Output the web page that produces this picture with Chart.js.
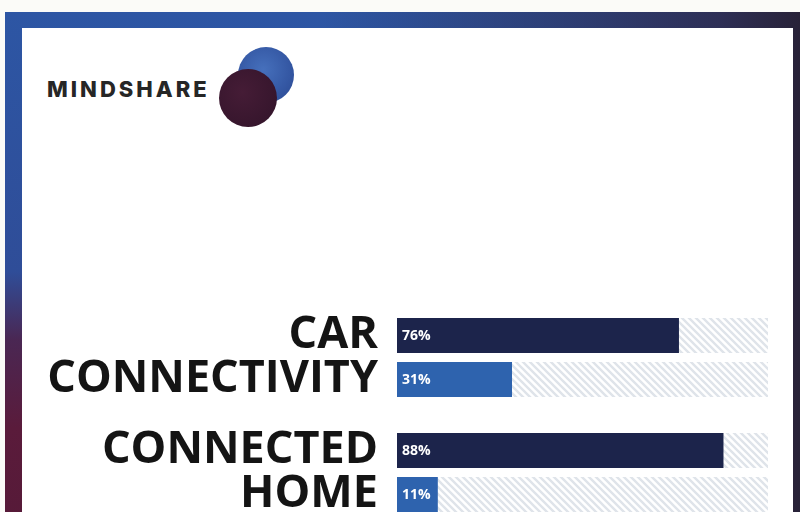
<!DOCTYPE html>
<html>
<head>
<meta charset="utf-8">
<script src="https://cdn.jsdelivr.net/npm/chart.js@4.4.1/dist/chart.umd.min.js"></script>
<style>
  html, body { margin: 0; padding: 0; width: 800px; height: 512px; overflow: hidden; background: #fbfbf8; }
  #frame {
    position: absolute; left: 5px; top: 12px; width: 795px; height: 520px;
    background: linear-gradient(to bottom, #2d56a4 0%, #2f4d98 50%, #4a2753 63%, #5a1b3b 80%, #561a38 100%);
  }
  #frameShade {
    position: absolute; left: 0; top: 0; width: 100%; height: 100%;
    background: linear-gradient(to right, rgba(40,40,80,0) 0%, rgba(40,40,80,0) 40%, rgba(46,40,72,0.85) 90%, rgba(40,34,56,1) 100%);
  }
  #panel { position: absolute; left: 22px; top: 28px; width: 771px; height: 500px; background: #ffffff; }
  #logo {
    position: absolute; left: 47px; top: 75px; font-family: Inter, "DejaVu Sans", sans-serif;
    font-weight: 800; font-size: 22px; letter-spacing: 3px; color: #262626; line-height: 28px;
  }
  .dot { position: absolute; border-radius: 50%; }
  #dotBlue { left: 238px; top: 47px; width: 56px; height: 56px; background: radial-gradient(circle at 45% 40%, #4670bc 0%, #3457a3 60%, #2a488f 100%); }
  #dotRed { left: 219px; top: 69px; width: 58px; height: 58px; background: radial-gradient(circle at 40% 40%, #451c36 0%, #37162d 70%, #2e1227 100%); }
  #chart { position: absolute; left: 0; top: 0; width: 800px; height: 560px; }
</style>
</head>
<body>
<div id="frame"><div id="frameShade"></div></div>
<div id="panel"></div>
<div id="logo">MINDSHARE</div>
<div class="dot" id="dotBlue"></div>
<div class="dot" id="dotRed"></div>
<canvas id="chart" width="800" height="560"></canvas>
<script>
const categories = [["CAR", "CONNECTIVITY"], ["CONNECTED", "HOME"]];
const darkValues = [76, 88];
const blueValues = [31, 11];
const trackMax = 100;

const chartCanvas = document.getElementById("chart");

function makeHatch() {
  const c = document.createElement("canvas");
  c.width = 7;
  c.height = 7;
  const g = c.getContext("2d");
  g.fillStyle = "#ffffff";
  g.fillRect(0, 0, 7, 7);
  g.strokeStyle = "#dfe4ea";
  g.lineWidth = 2.4;
  g.beginPath();
  g.moveTo(-1, -1); g.lineTo(8, 8);
  g.moveTo(-8, -1); g.lineTo(1, 8);
  g.moveTo(6, -1); g.lineTo(15, 8);
  g.stroke();
  return g.createPattern(c, "repeat");
}

const hatch = makeHatch();

const trackPlugin = {
  id: "tracks",
  beforeDatasetsDraw(chart) {
    const ctx = chart.ctx;
    const right = chart.scales.x.getPixelForValue(trackMax);
    ctx.save();
    chart.data.datasets.forEach((ds, i) => {
      chart.getDatasetMeta(i).data.forEach(bar => {
        const { y, height, base } = bar.getProps(["y", "height", "base"], true);
        ctx.fillStyle = hatch;
        ctx.fillRect(base, y - height / 2, right - base, height);
      });
    });
    ctx.restore();
  }
};

const valueLabels = {
  id: "valueLabels",
  afterDatasetsDraw(chart) {
    const ctx = chart.ctx;
    ctx.save();
    ctx.font = "bold 14px 'Open Sans', sans-serif";
    ctx.fillStyle = "#ffffff";
    ctx.textBaseline = "middle";
    chart.data.datasets.forEach((ds, i) => {
      chart.getDatasetMeta(i).data.forEach((bar, j) => {
        const { y, base } = bar.getProps(["y", "base"], true);
        ctx.fillText(`${ds.data[j]}%`, base + 5, y + 1);
      });
    });
    ctx.restore();
  }
};

new Chart(chartCanvas, {
  type: "bar",
  data: {
    labels: categories,
    datasets: [
      { label: "Dark", data: darkValues, backgroundColor: "#1c244b" },
      { label: "Blue", data: blueValues, backgroundColor: "#2e63ae" }
    ]
  },
  options: {
    indexAxis: "y",
    responsive: false,
    maintainAspectRatio: false,
    animation: false,
    categoryPercentage: 0.765,
    barPercentage: 0.795,
    layout: { padding: { top: 300, right: 32, bottom: 30, left: 0 } },
    plugins: { legend: { display: false }, tooltip: { enabled: false } },
    scales: {
      x: { min: 0, max: trackMax, display: false },
      y: {
        afterFit: scale => {
          scale.width = 397;
          scale.paddingTop = 0;
          scale.paddingBottom = 0;
        },
        grid: { display: false, drawTicks: false },
        border: { display: false },
        ticks: {
          color: "#141414",
          padding: 19,
          font: { family: "'Open Sans'", weight: "bold", size: 45, lineHeight: 0.98 }
        }
      }
    }
  },
  plugins: [trackPlugin, valueLabels]
});
</script>
</body>
</html>
